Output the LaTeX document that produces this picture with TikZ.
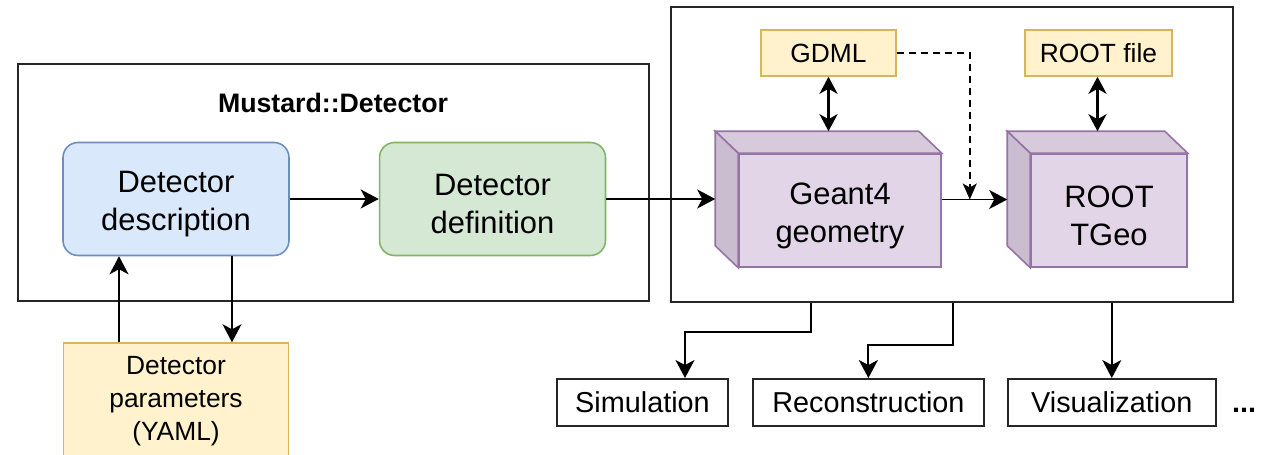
\documentclass[tikz,border=0pt]{standalone}
\usepackage{fontspec}
\setmainfont{Liberation Sans}
\usetikzlibrary{arrows.meta,positioning,calc}
\usepackage{xcolor}
\definecolor{DescBlue}{HTML}{DAE8FC}
\definecolor{DescLine}{HTML}{6C8EBF}
\definecolor{DefGreen}{HTML}{D5E8D4}
\definecolor{DefLine}{HTML}{82B366}
\definecolor{FileYellow}{HTML}{FFF2CC}
\definecolor{FileLine}{HTML}{D6B656}
\definecolor{GeoPurple}{HTML}{E1D5E7}
\definecolor{GeoLine}{HTML}{9673A6}
\definecolor{GeoTop}{HTML}{D6CADB}
\definecolor{GeoSide}{HTML}{CABDCF}
\newcommand{\boxfont}{\fontsize{17.6}{21.6}\selectfont}
\newcommand{\filefont}{\fontsize{15}{18.8}\selectfont}
\newcommand{\taskfont}{\fontsize{16.4}{19.7}\selectfont}
\newcommand{\boxstrut}{\rule{0pt}{18pt}}
\tikzset{
  outerframe/.style={draw=black!85, line width=1.2pt},
  descbox/.style={draw=DescLine, rounded corners=0.3cm, fill=DescBlue,
    line width=0.9pt, minimum width=4.52cm, minimum height=2.26cm,
    align=center, font=\boxfont},
  defbox/.style={draw=DefLine, rounded corners=0.3cm, fill=DefGreen,
    line width=0.9pt, minimum width=4.52cm, minimum height=2.26cm,
    align=center, font=\boxfont},
  filebox/.style={draw=FileLine, fill=FileYellow, line width=0.9pt,
    inner sep=0pt, align=center, font=\filefont},
  cubefront/.style={draw=GeoLine, fill=GeoPurple, line width=0.9pt,
    minimum height=2.26cm, inner sep=0pt, align=center, font=\boxfont},
  taskbox/.style={draw=black!85, line width=1.1pt, minimum height=0.94cm,
    inner sep=0pt, font=\taskfont},
  arrow/.style={-{Stealth[length=0.36cm,width=0.38cm,inset=0.1cm]}, line width=1.1pt},
  twoway/.style={{Stealth[length=0.34cm,width=0.36cm,inset=0.1cm]}-{Stealth[length=0.34cm,width=0.36cm,inset=0.1cm]},
    line width=1.6pt},
  dasharrow/.style={-{Stealth[length=0.32cm,width=0.28cm,inset=0.08cm]},
    dash pattern=on 0.14cm off 0.1cm, line width=0.9pt}
}

\begin{document}
\begin{tikzpicture}[x=0.02cm, y=-0.02cm]
  \useasboundingbox (0,0) rectangle (1276,455);
  % detector side
  \node[outerframe, minimum width=12.62cm, minimum height=4.74cm] (detframe) at (333.5,182.5) {};
  \node[font=\fontsize{15.2}{18}\selectfont\bfseries] (title) at (333,103) {Mustard::Detector};
  \node[descbox] (desc) at (176,199) {\boxstrut Detector\\description};
  \node[defbox, right=1.78cm of desc] (defn) {\boxstrut Detector\\definition};
  \node[filebox, minimum width=4.5cm, minimum height=2.32cm, below=1.72cm of desc] (params) {Detector\\parameters\\(YAML)};

  % geometry side
  \node[outerframe, minimum width=11.24cm, minimum height=5.9cm] (geoframe) at (952,154.5) {};
  \node[cubefront, minimum width=4.04cm] (g4) at (840,210.5) {\boxstrut Geant4\\geometry};
  \node[cubefront, minimum width=3.12cm] (tgeo) at (1109,210.5) {\boxstrut ROOT\\TGeo};
  \node[filebox, minimum width=2.7cm, minimum height=0.92cm] (gdml) at (828.5,53) {GDML};
  \node[filebox, minimum width=2.94cm, minimum height=0.92cm] (rootfile) at (1098.5,53) {ROOT file};

  \foreach \c in {g4,tgeo} {
    \filldraw[fill=GeoTop, draw=GeoLine, line width=0.9pt]
      (\c.north west) -- ++(-23,-22) -- ($(\c.north east)+(-23,-22)$) -- (\c.north east) -- cycle;
    \filldraw[fill=GeoSide, draw=GeoLine, line width=0.9pt]
      (\c.north west) -- ++(-23,-22) -- ($(\c.south west)+(-23,-22)$) -- (\c.south west) -- cycle;
  }
  \coordinate (g4in) at ($(g4.west)+(-23,-11)$);
  \coordinate (g4top) at ($(g4.north)+(-11.5,-22)$);
  \coordinate (tgeoin) at ($(tgeo.west)+(-23,-11)$);
  \coordinate (tgeotop) at ($(tgeo.north)+(-11.5,-22)$);

  % tasks
  \node[taskbox, minimum width=3.42cm] (sim) at (642.5,402.5) {Simulation};
  \node[taskbox, minimum width=4.62cm, right=0.46cm of sim] (reco) {Reconstruction};
  \node[taskbox, minimum width=4.16cm, right=0.44cm of reco] (vis) {Visualization};
  \node[anchor=base west, inner sep=0pt, font=\taskfont\bfseries] (more) at ([xshift=0.3cm]vis.base east) {...};

  % connectors
  \draw[arrow] (desc) -- (defn);
  \draw[arrow] (defn.east) -- (defn.east -| g4in);
  \draw[arrow] (g4in -| g4.east) -- (tgeoin);
  \draw[twoway] (gdml.south) -- (g4top);
  \draw[twoway] (rootfile.south -| tgeotop) -- (tgeotop);
  \draw[dasharrow] (gdml.east) -| ($(g4in -| g4.east)+(28,0)$);
  \draw[arrow] ([xshift=-1.14cm]params.north) -- ([xshift=-1.14cm]desc.south);
  \draw[arrow] ([xshift=1.12cm]desc.south) -- ([xshift=1.12cm]params.north);
  \draw[arrow] ([xshift=-2.82cm]geoframe.south) |- ([xshift=0.85cm,yshift=0.92cm]sim.north) -- ([xshift=0.85cm]sim.north);
  \draw[arrow] ([xshift=0.02cm]geoframe.south) |- ([yshift=0.66cm]reco.north) -- (reco.north);
  \draw[arrow] (geoframe.south -| vis.north) -- (vis.north);
\end{tikzpicture}
\end{document}
